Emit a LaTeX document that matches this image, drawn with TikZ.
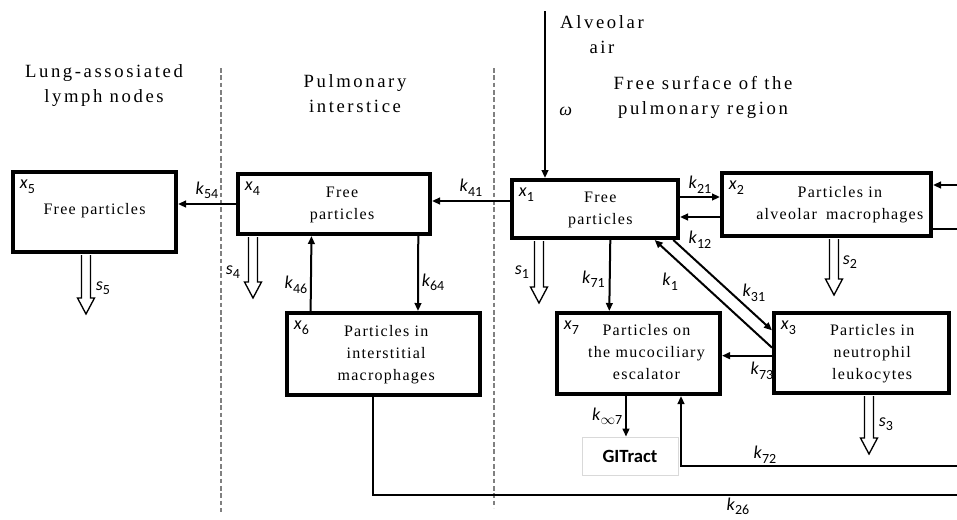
\documentclass[tikz,border=0pt]{standalone}
\usepackage{fontspec}
\usepackage{tikz}
\usetikzlibrary{arrows.meta,positioning,calc}
\setmainfont{Liberation Serif}
\newfontfamily\boxfont[LetterSpace=8]{Liberation Serif}
\newfontfamily\titlefont[LetterSpace=14]{Liberation Serif}
\newfontfamily\symfont{Carlito}
\newdimen\pxu \pxu=0.75pt
% rate, compartment and sink symbols
\newcommand\kr[1]{{\symfont\itshape k\/\upshape\raisebox{-0.25em}{\fontsize{10.5}{11}\selectfont#1}}}
\newcommand\cmp[1]{{\symfont\itshape x\/\upshape\raisebox{-0.25em}{\fontsize{10.5}{11}\selectfont#1}}}
\newcommand\sk[1]{{\symfont\itshape s\/\upshape\raisebox{-0.25em}{\fontsize{10.5}{11}\selectfont#1}}}
\newcommand\boxtext[2]{\hspace*{#1}\begin{tabular}{@{}c@{}}#2\end{tabular}}
\tikzset{
  comp/.style={draw,line width=3pt,inner sep=0pt,align=center,
    font=\boxfont\fontsize{12}{16.5}\selectfont},
  xlab/.style={anchor=north west,inner sep=0pt,xshift=6.5pt,yshift=-7.5pt,
    font=\fontsize{13.5}{15}\selectfont},
  rate/.style={inner sep=1pt,font=\fontsize{13.5}{15}\selectfont},
  region/.style={align=center,font=\titlefont\fontsize{14}{18.75}\selectfont},
  arrow/.style={-{Triangle[length=6pt,width=5pt]},line width=1.5pt},
  link/.style={line width=1.5pt},
  divider/.style={gray,line width=0.8pt,dash pattern=on 3.5pt off 2pt},
  sinkline/.style={draw,fill=white,line width=1pt,line join=miter},
  pics/sinkarr/.style={code={
    \draw[sinkline] (-4.5,0) -- (-4.5,{#1-16}) -- (-8.5,{#1-16}) -- (0,#1)
      -- (8.5,{#1-16}) -- (4.5,{#1-16}) -- (4.5,0);}}
}
\begin{document}
\begin{tikzpicture}[x=0.75pt,y=-0.75pt]
  \useasboundingbox (0,0) rectangle (957,519);
  % regions
  \draw[divider] (221,68) -- (221,512);
  \draw[divider] (494,68) -- (494,508);
  \node[region] (rlymph) at (104,86) {Lung-assosiated\\lymph nodes};
  \node[region] (rinter) at (355,94) {Pulmonary\\interstice};
  \node[region] (rsurf) at (703,97) {Free surface of the\\pulmonary region};
  \node[region] (air) at (602,35) {Alveolar\\air};

  % compartments
  \node[comp,minimum width=163\pxu,minimum height=80\pxu,
    label={[xlab,name=n5]north west:\cmp{5}}] (x5) at (94.5,212)
    {\raisebox{4pt}{Free particles}};
  \node[comp,minimum width=192\pxu,minimum height=60\pxu,
    label={[xlab,name=n4]north west:\cmp{4}}] (x4) at (334,204)
    {\boxtext{12pt}{Free\\particles}};
  \node[comp,minimum width=193\pxu,minimum height=82\pxu,
    label={[xlab,name=n6]north west:\cmp{6}}] (x6) at (383.5,354)
    {\boxtext{4pt}{Particles in\\interstitial\\macrophages}};
  \node[comp,minimum width=166\pxu,minimum height=58\pxu,
    label={[xlab,name=n1]north west:\cmp{1}}] (x1) at (595,209)
    {\boxtext{8pt}{Free\\particles}};
  \node[comp,minimum width=209\pxu,minimum height=63\pxu,
    label={[xlab,name=n2]north west:\cmp{2}}] (x2) at (826.5,204.5)
    {\boxtext{20pt}{Particles in\\alveolar\hspace{3pt} macrophages}};
  \node[comp,minimum width=163\pxu,minimum height=81\pxu,
    label={[xlab,name=n7]north west:\cmp{7}}] (x7) at (638.5,353.5)
    {\boxtext{12pt}{Particles on\\the mucociliary\\escalator}};
  \node[comp,minimum width=175\pxu,minimum height=80\pxu,
    label={[xlab,name=n3]north west:\cmp{3}}] (x3) at (861.5,353)
    {\boxtext{16pt}{Particles in\\neutrophil\\leukocytes}};
  \node[draw=black!15,line width=0.6pt,minimum width=96\pxu,minimum height=38\pxu,
    font=\symfont\bfseries\fontsize{14}{16}\selectfont] (gi) at (630,456) {GITract};

  % free ends off the picture
  \coordinate (in2) at (957,185);
  \coordinate (out2) at (957,229);
  \coordinate (e72) at (957,466);
  \coordinate (e26) at (957,495);
  \coordinate (p7) at ($(x7.south west)!0.425!(x7.south east)$);

  % transfers
  \draw[arrow] (air.north -| 545,0) -- (x1.north -| 545,0)
    node[rate,pos=0.6,right=9pt,font=\itshape\fontsize{13.5}{14}\selectfont] (lw) {ω};
  \draw[arrow] (x4.west) -- (x4.west -| x5.east)
    node[rate,midway,above=2pt] (l54) {\kr{54}};
  \draw[arrow] ([yshift=6pt]x1.west) -- ([yshift=6pt]x1.west -| x4.east)
    node[rate,midway,above=2pt] (l41) {\kr{41}};
  \draw[arrow] ([yshift=9pt]x1.east) -- ([yshift=9pt]x1.east -| x2.west)
    node[rate,midway,above=1pt] (l21) {\kr{21}};
  \draw[arrow] ([yshift=-6pt]x1.east -| x2.west) -- ([yshift=-6pt]x1.east)
    node[rate,midway,below=9pt] (l12) {\kr{12}};
  \draw[arrow] ($(x6.north west)!0.13!(x6.north east)$) -- ($(x4.south west)!0.385!(x4.south east)$)
    node[rate,pos=0.35,left=1pt] (l46) {\kr{46}};
  \draw[arrow] ($(x4.south west)!0.93!(x4.south east)$) -- ($(x6.north west)!0.675!(x6.north east)$)
    node[rate,pos=0.62,right=1pt] (l64) {\kr{64}};
  \draw[arrow] ($(x1.south west)!0.59!(x1.south east)$) -- ($(x7.north west)!0.325!(x7.north east)$)
    node[rate,pos=0.55,left=2pt] (l71) {\kr{71}};
  \draw[arrow] ([yshift=4pt]x3.west) -- ([xshift=-19pt]x1.south east)
    node[rate,pos=0.55,xshift=-28pt,yshift=5pt] (l1) {\kr{1}};
  \draw[arrow] ([xshift=-5pt]x1.south east) -- ([yshift=17pt]x3.west)
    node[rate,pos=0.6,xshift=16pt,yshift=1pt] (l31) {\kr{31}};
  \draw[arrow] ([yshift=-2pt]x3.west) -- ([yshift=-2pt]x3.west -| x7.east)
    node[rate,pos=0.2,below=3pt] (l73) {\kr{73}};
  \draw[arrow] (p7) -- (p7 |- gi.north)
    node[rate,midway,left=1pt] (l07) {\kr{\ensuremath{\infty}7}};
  \draw[arrow] (e72) -- (e72 -| 681,0) -- (x7.south -| 681,0);
  \node[rate,above=1pt] (l72) at (765,466) {\kr{72}};
  \draw[link] ($(x6.south west)!0.445!(x6.south east)$) |- (e26);
  \node[rate,below=1pt] (l26) at (738,495) {\kr{26}};
  \draw[arrow] (in2) -- (in2 -| x2.east);
  \draw[link] (out2 -| x2.east) -- (out2);

  % elimination
  \pic at ($(x5.south)+(-8.5,1)$) {sinkarr=59};
  \node[rate] (l5) at (103,288) {\sk{5}};
  \pic at ($(x4.south)+(-81,1)$) {sinkarr=61};
  \node[rate] (l4) at (233,272) {\sk{4}};
  \pic at ($(x1.south)+(-56,1)$) {sinkarr=62};
  \node[rate] (l1s) at (522,272) {\sk{1}};
  \pic at ($(x2.south)+(7.5,1)$) {sinkarr=56};
  \node[rate] (l2) at (850,262) {\sk{2}};
  \pic at ($(x3.south)+(7.5,1)$) {sinkarr=58};
  \node[rate] (l3) at (886,424) {\sk{3}};
\end{tikzpicture}
\end{document}
